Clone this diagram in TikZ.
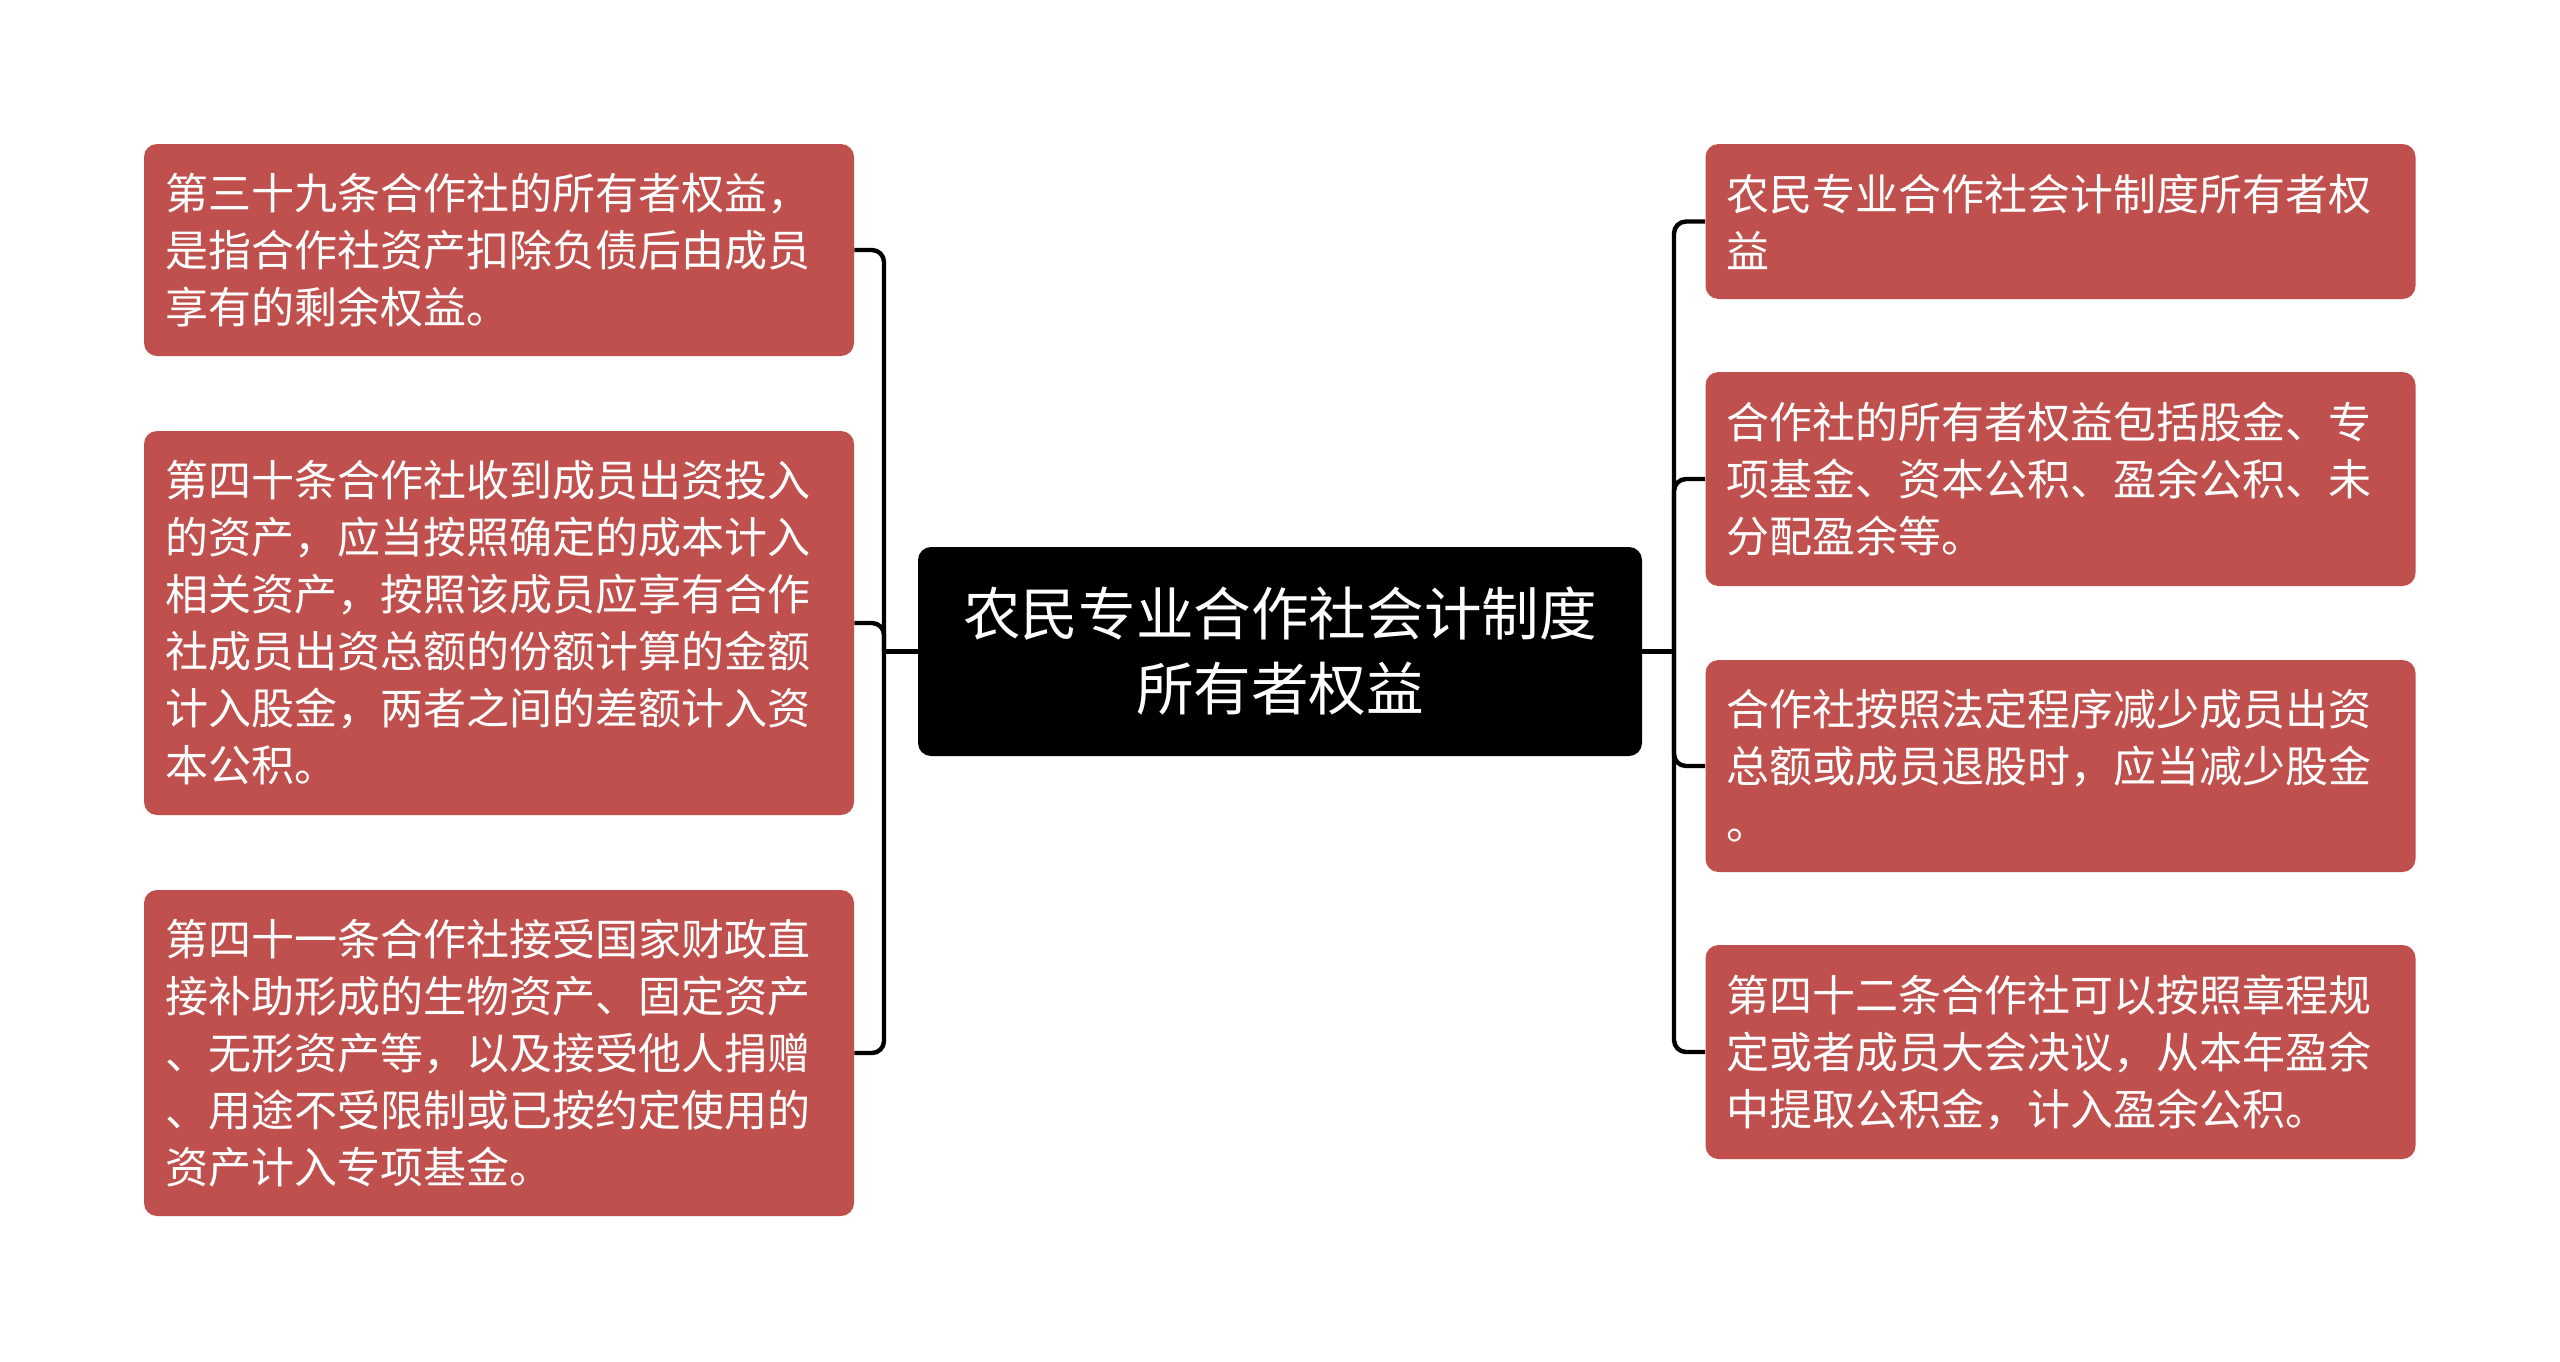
\documentclass[tikz,border=0pt]{standalone}
\usepackage{fontspec}
\setmainfont{Noto Sans CJK SC}
\usepackage{xcolor}
\usepackage{tikz}
\definecolor{boxred}{HTML}{C0504D}

\begin{document}
\begin{tikzpicture}[
    x=0.5pt, y=-0.5pt,
    tp/.style={fill=black,text=white,rounded corners=6.5pt,align=center,
      font=\fontsize{28.8}{37.5}\selectfont,
      minimum width=362pt,minimum height=104.5pt,inner sep=0pt},
    sub/.style={fill=boxred,text=white,rounded corners=6.5pt,align=left,
      font=\fontsize{21.5}{28.5}\selectfont,text width=334pt,
      inner xsep=10.5pt,inner ysep=0pt,minimum width=355pt},
    ln/.style={line width=2.2pt,black,rounded corners=6pt},
  ]
  \useasboundingbox (0,0) rectangle (2560,1361);

  % -- the topic in the middle --
  \node[tp] (root) at (1280,651.5)
       {农民专业合作社会计制度\\所有者权益};

  % -- left branch --
  \node[sub,minimum height=106pt] (l1) at (499,250)
       {第三十九条合作社的所有者权益，\\是指合作社资产扣除负债后由成员\\享有的剩余权益。};
  \node[sub,minimum height=192pt] (l2) at (499,623)
       {第四十条合作社收到成员出资投入\\的资产，应当按照确定的成本计入\\相关资产，按照该成员应享有合作\\社成员出资总额的份额计算的金额\\计入股金，两者之间的差额计入资\\本公积。};
  \node[sub,minimum height=163pt] (l3) at (499,1053)
       {第四十一条合作社接受国家财政直\\接补助形成的生物资产、固定资产\\、无形资产等，以及接受他人捐赠\\、用途不受限制或已按约定使用的\\资产计入专项基金。};

  % -- right branch --
  \node[sub,minimum height=77.5pt] (r1) at (2060.5,221.5)
       {农民专业合作社会计制度所有者权\\益};
  \node[sub,minimum height=107pt] (r2) at (2060.5,479)
       {合作社的所有者权益包括股金、专\\项基金、资本公积、盈余公积、未\\分配盈余等。};
  \node[sub,minimum height=106pt] (r3) at (2060.5,766)
       {合作社按照法定程序减少成员出资\\总额或成员退股时，应当减少股金\\。};
  \node[sub,minimum height=107pt] (r4) at (2060.5,1052)
       {第四十二条合作社可以按照章程规\\定或者成员大会决议，从本年盈余\\中提取公积金，计入盈余公积。};

  % -- connectors --
  \coordinate (lj) at (884,651.5);
  \coordinate (rj) at (1674,651.5);
  \draw[ln] (root.west) -- (lj);
  \draw[ln] (root.east) -- (rj);
  \foreach \n in {l1,l2,l3}
    \draw[ln] (lj) |- (\n.east);
  \foreach \n in {r1,r2,r3,r4}
    \draw[ln] (rj) |- (\n.west);
\end{tikzpicture}
\end{document}
